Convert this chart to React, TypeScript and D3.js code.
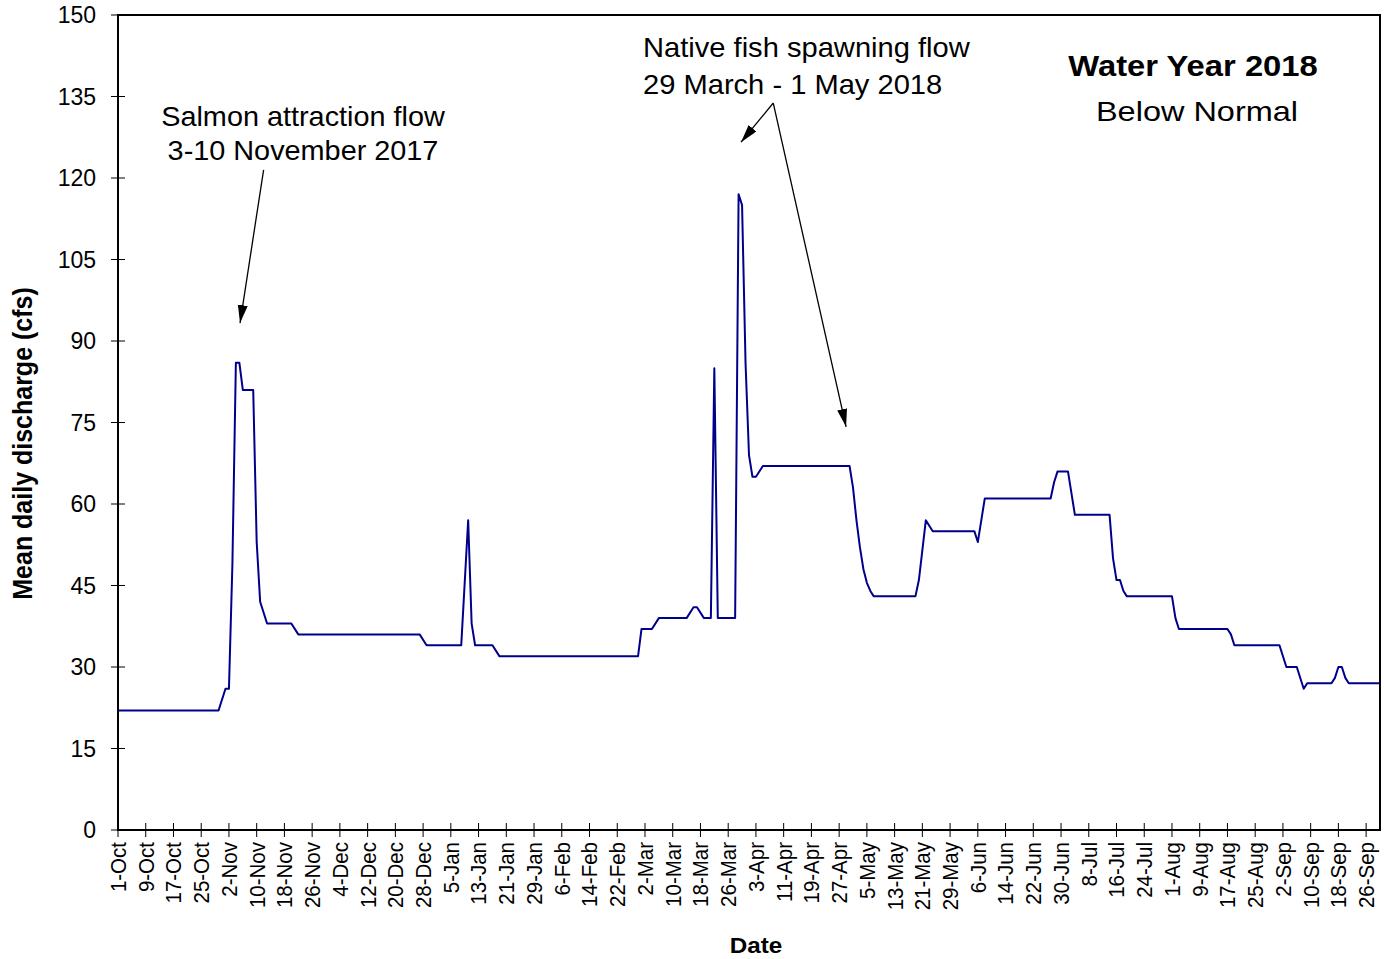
import React from "react";
import * as d3 from "d3";

// ---- Data ----
const flowDates: string[] = [
  "2017-10-01","2017-10-30","2017-11-01","2017-11-02","2017-11-03","2017-11-04","2017-11-05","2017-11-06",
  "2017-11-09","2017-11-10","2017-11-11","2017-11-13","2017-11-20","2017-11-22","2017-12-27","2017-12-29",
  "2018-01-08","2018-01-10","2018-01-11","2018-01-12","2018-01-17","2018-01-19","2018-02-28","2018-03-01",
  "2018-03-04","2018-03-06","2018-03-14","2018-03-16","2018-03-17","2018-03-19","2018-03-21","2018-03-22",
  "2018-03-23","2018-03-28","2018-03-29","2018-03-30","2018-03-31","2018-04-01","2018-04-02","2018-04-03",
  "2018-04-05","2018-04-30","2018-05-01","2018-05-02","2018-05-03","2018-05-04","2018-05-05","2018-05-06",
  "2018-05-07","2018-05-19","2018-05-20","2018-05-22","2018-05-24","2018-06-05","2018-06-06","2018-06-08",
  "2018-06-27","2018-06-28","2018-06-29","2018-07-02","2018-07-04","2018-07-14","2018-07-15","2018-07-16",
  "2018-07-17","2018-07-18","2018-07-19","2018-08-01","2018-08-02","2018-08-03","2018-08-17","2018-08-18",
  "2018-08-19","2018-09-01","2018-09-03","2018-09-06","2018-09-08","2018-09-09","2018-09-16","2018-09-17",
  "2018-09-18","2018-09-19","2018-09-20","2018-09-21","2018-09-30",
];
const flowValues: number[] = [
  22, 22, 26, 26, 49, 86, 86, 81,
  81, 53, 42, 38, 38, 36, 36, 34,
  34, 57, 38, 34, 34, 32, 32, 37,
  37, 39, 39, 41, 41, 39, 39, 85,
  39, 39, 117, 115, 86, 69, 65, 65,
  67, 67, 63, 57, 52, 48, 45.5, 44,
  43, 43, 46, 57, 55, 55, 53, 61,
  61, 64, 66, 66, 58, 58, 50, 46,
  46, 44, 43, 43, 39, 37, 37, 36,
  34, 34, 30, 30, 26, 27, 27, 28,
  30, 30, 28, 27, 27,
];
const yTickValues: number[] = [0, 15, 30, 45, 60, 75, 90, 105, 120, 135, 150];
const xStartDate = "2017-10-01";
const xEndDate = "2018-09-30";
const xTickStepDays = 8;

// annotation arrows
const arrowFromDates = ["2017-11-12", "2018-04-08", "2018-04-08"];
const arrowFromValues = [121.5, 133.8, 133.8];
const arrowToDates = ["2017-11-05", "2018-03-29", "2018-04-29"];
const arrowToValues = [93.3, 126.6, 74.2];
const arrowOffsetDays = [0.2, 0.7, 0.0];

const W = 1384;
const H = 959;
const M = { left: 118, right: 1380, top: 15, bottom: 830 };
const FONT = "'Liberation Sans', Arial, Helvetica, sans-serif";

const parse = d3.utcParse("%Y-%m-%d");

function T(props: {
  x: number; y: number; size: number; sx?: number; anchor?: string; weight?: string;
  rotate?: number; baseline?: string; children: React.ReactNode;
}) {
  const { x, y, size, sx = 1, anchor = "middle", weight = "normal", rotate, baseline, children } = props;
  const tr = `translate(${x},${y}) scale(${sx},1)` + (rotate ? ` rotate(${rotate})` : "");
  return (
    <text
      transform={tr}
      fontFamily={FONT}
      fontSize={size}
      fontWeight={weight}
      textAnchor={anchor}
      dominantBaseline={baseline}
      fill="#000"
    >
      {children}
    </text>
  );
}

export default function App() {
  const t0 = parse(xStartDate)!;
  const t1 = parse(xEndDate)!;
  const x = d3.scaleUtc().domain([t0, t1]).range([M.left, M.right]);
  const y = d3.scaleLinear().domain([0, 150]).range([M.bottom, M.top]);

  const pts = flowDates.map((d, i) => ({ d: parse(d)!, v: flowValues[i] }));
  const line = d3
    .line<{ d: Date; v: number }>()
    .x((p) => x(p.d))
    .y((p) => y(p.v));

  const xTicks = d3.utcDay.range(t0, d3.utcDay.offset(t1, -3), xTickStepDays);
  const fmt = d3.utcFormat("%-d-%b");

  const arrows = arrowFromDates.map((fd, i) => {
    const a = parse(fd)!;
    const b = parse(arrowToDates[i])!;
    return {
      x1: x(a),
      y1: y(arrowFromValues[i]),
      x2: x(new Date(b.getTime() + arrowOffsetDays[i] * 86400000)),
      y2: y(arrowToValues[i]),
    };
  });

  return (
    <svg
      width={W}
      height={H}
      style={{ position: "absolute", left: 0, top: 0, background: "#fff" }}
    >
      <defs>
        <marker
          id="ah"
          markerUnits="userSpaceOnUse"
          markerWidth={20}
          markerHeight={12}
          refX={18}
          refY={5}
          orient="auto"
        >
          <path d="M0,0 L18,5 L0,10 Z" fill="#000" />
        </marker>
      </defs>

      {/* y ticks */}
      {yTickValues.map((v) => (
        <g key={"y" + v}>
          <line x1={M.left - 7} x2={M.left + 7} y1={y(v)} y2={y(v)} stroke="#000" strokeWidth={1} />
          <T x={M.left - 22} y={y(v)} size={23} anchor="end" baseline="central">
            {v}
          </T>
        </g>
      ))}

      {/* x ticks */}
      {xTicks.map((d) => (
        <g key={"x" + d.getTime()}>
          <line x1={x(d)} x2={x(d)} y1={M.bottom - 7} y2={M.bottom + 7} stroke="#000" strokeWidth={1} />
          <T x={x(d)} y={M.bottom + 12} size={20.5} sx={1.12} anchor="end" baseline="central" rotate={-90}>
            {fmt(d)}
          </T>
        </g>
      ))}

      {/* data line */}
      <path d={line(pts) || ""} fill="none" stroke="#00008c" strokeWidth={2} strokeLinejoin="round" />

      {/* plot frame */}
      <rect
        x={M.left}
        y={M.top}
        width={M.right - M.left}
        height={M.bottom - M.top}
        fill="none"
        stroke="#000"
        strokeWidth={2}
      />

      {/* axis titles */}
      <T x={22} y={(M.top + M.bottom) / 2 + 21} size={25} sx={1.14} weight="bold" baseline="central" rotate={-90}>
        Mean daily discharge (cfs)
      </T>
      <T x={756} y={953} size={22} sx={1.1} weight="bold">
        Date
      </T>

      {/* title */}
      <T x={1193} y={76} size={29} sx={1.13} weight="bold">
        Water Year 2018
      </T>
      <T x={1197} y={121} size={28} sx={1.16}>
        Below Normal
      </T>

      {/* annotations */}
      <T x={303} y={126} size={28} sx={1.03}>
        Salmon attraction flow
      </T>
      <T x={303} y={160} size={28} sx={1.03}>
        3-10 November 2017
      </T>
      <T x={643} y={57} size={28} sx={1.04} anchor="start">
        Native fish spawning flow
      </T>
      <T x={643} y={94} size={28} sx={1.04} anchor="start">
        29 March - 1 May 2018
      </T>

      {arrows.map((a, i) => (
        <line
          key={"a" + i}
          x1={a.x1}
          y1={a.y1}
          x2={a.x2}
          y2={a.y2}
          stroke="#000"
          strokeWidth={1.3}
          markerEnd="url(#ah)"
        />
      ))}
    </svg>
  );
}
